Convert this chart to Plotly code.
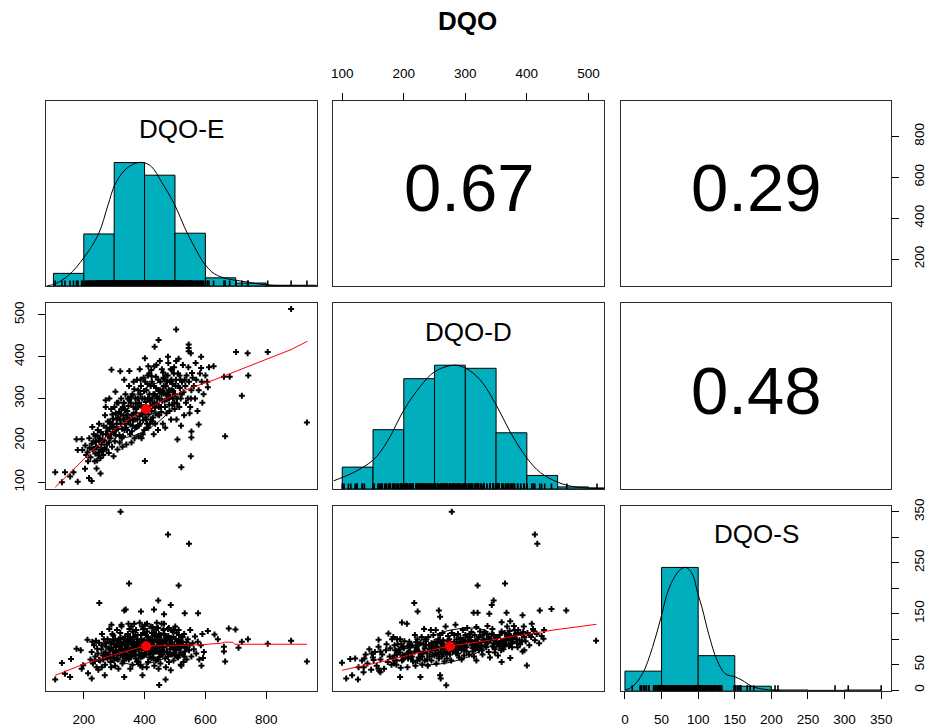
import math
import plotly.graph_objects as go

W, H = 927, 728

# ---------------- data ----------------
title_text = "DQO"
var_names = ["DQO-E", "DQO-D", "DQO-S"]
corr_values = [0.67, 0.29, 0.48]          # (E,D), (E,S), (D,S)

means = [405, 275, 86]                     # E, D, S
sds = [112, 68, 36]

E_bin_edges = [100, 200, 300, 400, 500, 600, 700, 800, 900, 1000]
E_counts = [17, 70, 166, 149, 71, 11, 4, 1, 1]
D_bin_edges = [100, 150, 200, 250, 300, 350, 400, 450, 500, 550]
D_counts = [21, 57, 106, 119, 116, 54, 13, 2, 1]
S_bin_edges = [0, 50, 100, 150, 200, 250, 300, 350]
S_counts = [52, 327, 93, 12, 2, 1, 2]

E_dens_x = [78, 106, 149, 201, 248, 280, 302, 335, 368, 395, 423, 455, 499, 532, 565, 597, 630, 673, 717, 772, 826, 935]
E_dens_y = [0.0, 0.018, 0.085, 0.232, 0.419, 0.659, 0.819, 0.939, 0.993, 1.0, 0.966, 0.846, 0.659, 0.472, 0.312, 0.179, 0.098, 0.058, 0.04, 0.018, 0.005, 0.0]
D_dens_x = [86, 99.5, 118, 151, 173, 201, 227, 250, 281, 301, 324, 351, 373, 400, 422, 451, 476, 498, 525]
D_dens_y = [0.066, 0.092, 0.132, 0.237, 0.382, 0.645, 0.829, 0.947, 1.0, 0.974, 0.882, 0.671, 0.46, 0.25, 0.132, 0.053, 0.018, 0.008, 0.003]
S_dens_x = [0, 10, 24, 37.5, 49, 60, 74, 83, 92, 99, 105.5, 114.5, 126, 137, 151, 160, 173, 182.5, 200.6, 213]
S_dens_y = [0.005, 0.032, 0.138, 0.35, 0.589, 0.828, 0.973, 1.0, 0.947, 0.80, 0.668, 0.456, 0.244, 0.138, 0.111, 0.085, 0.037, 0.019, 0.005, 0.0]

# scatter DQO-E (x) vs DQO-D (y)
ED_E = [882, 934, 504, 446, 433, 545, 545, 545, 701, 739, 805, 741, 720, 661, 680, 627, 665, 586, 586, 608,
        590, 578, 554, 554, 552, 521, 508, 401, 106, 128, 138, 155, 166, 180, 176, 193, 180, 195, 217, 226,
        204, 242, 255, 238, 249, 291, 320, 350, 272, 304, 401, 412, 432, 477, 504, 490, 423, 466, 552, 556,
        205, 212, 218, 222, 226, 230, 233, 236, 240, 243, 246, 249, 252, 255, 258, 214, 228, 250, 238, 256,
        208, 244, 260, 232, 219,
        262, 265, 268, 270, 273, 276, 279, 282, 285, 288, 290, 293, 296, 299, 302, 305, 308, 311, 314, 317,
        264, 272, 284, 298, 306, 312, 318, 280, 294, 275,
        322, 325, 328, 331, 334, 337, 340, 343, 346, 349, 352, 355, 358, 361, 364, 367, 370, 373, 376, 379,
        323, 327, 333, 339, 345, 351, 357, 363, 369, 375, 380, 330, 342, 360, 372,
        382, 385, 388, 391, 394, 397, 400, 403, 406, 409, 412, 415, 418, 421, 424, 427, 430, 433, 436, 439,
        384, 390, 396, 402, 408, 414, 420, 426, 432, 438, 386, 399, 411, 423, 435,
        442, 445, 448, 451, 454, 457, 460, 463, 466, 469, 472, 475, 478, 481, 484, 487, 490, 493, 496, 499,
        444, 450, 456, 462, 468, 474, 480, 486, 492, 498,
        502, 506, 510, 514, 518, 522, 526, 530, 534, 538, 542, 546, 550, 554, 558, 505, 512, 520, 528, 536,
        544, 552, 516, 532, 548,
        562, 566, 570, 574, 578, 582, 588, 594, 600, 606, 612, 568,
        310, 316, 322, 326, 332, 336, 341, 347, 353, 356, 362, 366, 371, 374, 378, 383, 387, 392, 395, 398,
        401, 404, 407, 410, 413, 416, 419, 422, 425, 428, 431, 434, 437, 440, 443, 446, 449, 452, 455, 458,
        461, 464, 467, 470, 473, 476, 479, 482, 485, 488, 491, 494, 497, 500, 503, 507, 511, 515, 519, 523,
        285, 289, 294, 297, 301, 305, 309, 313, 319, 324, 329, 335, 344, 350, 358, 364, 368, 377, 381, 389,
        393, 405, 411, 417, 429, 441, 447, 459, 471, 483,
        250, 256, 262, 268, 274, 278, 283, 287, 246, 240]
ED_D = [514, 243, 465, 440, 424, 429, 421, 413, 411, 408, 411, 355, 307, 352, 352, 377, 210, 400, 373, 327,
        290, 238, 221, 207, 162, 136, 202, 151, 124, 100, 124, 114, 124, 101, 203, 203, 177, 177, 110, 103,
        132, 133, 121, 169, 164, 369, 365, 366, 296, 316, 396, 377, 377, 400, 390, 369, 353, 346, 408, 361,
        188, 172, 205, 160, 192, 178, 215, 150, 196, 183, 225, 171, 205, 158, 190, 150, 232, 240, 210, 220,
        165, 152, 175, 198, 182,
        200, 235, 182, 260, 215, 190, 245, 170, 228, 205, 275, 185, 252, 220, 198, 265, 240, 178, 290, 213,
        165, 280, 300, 162, 226, 255, 195, 210, 238, 230,
        240, 205, 280, 260, 225, 310, 190, 270, 245, 330, 215, 290, 260, 235, 340, 205, 300, 275, 250, 320,
        300, 185, 345, 230, 300, 250, 195, 280, 230, 345, 210, 250, 225, 310, 265,
        290, 240, 330, 265, 215, 350, 300, 255, 320, 275, 230, 360, 295, 250, 340, 285, 215, 310, 265, 380,
        370, 205, 280, 340, 240, 300, 330, 245, 290, 325, 310, 225, 355, 270, 240,
        300, 345, 260, 320, 280, 370, 240, 330, 295, 355, 265, 310, 385, 285, 340, 250, 320, 300, 360, 275,
        225, 390, 310, 350, 230, 340, 300, 370, 335, 290,
        330, 300, 360, 280, 345, 310, 380, 260, 330, 355, 300, 340, 280, 320, 350, 250, 395, 235, 315, 290,
        375, 300, 325, 345, 265,
        330, 300, 345, 270, 320, 360, 340, 310, 355, 340, 375, 385,
        250, 268, 262, 228, 290, 272, 255, 282, 238, 305, 248, 322, 288, 232, 300, 258, 345, 300, 248, 318,
        270, 292, 230, 335, 262, 310, 282, 368, 300, 255, 330, 278, 352, 288, 262, 318, 300, 340, 268, 295,
        362, 312, 280, 330, 298, 355, 320, 270, 305, 345, 285, 318, 375, 310, 345, 288, 330, 355, 300, 340,
        245, 215, 262, 232, 280, 212, 290, 228, 250, 275, 210, 240, 262, 298, 222, 265, 250, 280, 235, 282,
        262, 250, 300, 240, 310, 305, 280, 320, 310, 320,
        200, 178, 215, 200, 178, 222, 195, 240, 210, 185]

# scatter DQO-E (x) vs DQO-S (y)
ES_E = [321, 477, 546, 349, 512, 251, 445, 486, 333, 338, 388, 431, 576, 532, 464, 291, 324, 677, 699, 740,
        720, 882, 805, 709, 661, 661, 665, 934, 608, 630, 641, 592, 587, 521, 486, 469, 448, 393, 333, 226,
        106, 128, 138, 155, 158, 176, 190, 212, 240, 244, 193, 198, 214, 259, 269, 297, 250,
        222, 226, 230, 234, 238, 242, 246, 250, 254, 258, 262, 266, 270, 274, 278, 228, 248, 260, 272, 236,
        282, 285, 288, 291, 294, 297, 300, 303, 306, 309, 312, 315, 318, 321, 324, 327, 330, 333, 336, 339,
        284, 290, 296, 302, 308, 314, 320, 326, 332, 338, 287, 299, 311, 323, 335,
        342, 345, 348, 351, 354, 357, 360, 363, 366, 369, 372, 375, 378, 381, 384, 387, 390, 393, 396, 399,
        341, 347, 353, 359, 365, 371, 377, 383, 389, 395, 344, 356, 368, 380, 392, 398, 350, 362, 374, 386,
        402, 405, 408, 411, 414, 417, 420, 423, 426, 429, 432, 435, 438, 441, 444, 447, 450, 453, 456, 459,
        401, 407, 413, 419, 425, 431, 437, 443, 449, 455, 404, 416, 428, 440, 452, 458, 410, 422, 434, 446,
        462, 465, 468, 471, 474, 477, 480, 483, 486, 489, 492, 495, 498, 501, 504, 507, 510, 513, 516, 519,
        464, 470, 476, 482, 488, 494, 500, 506, 512, 518,
        522, 526, 530, 534, 538, 542, 546, 550, 554, 558, 562, 566, 570, 575, 580, 585, 590, 595, 528, 548,
        305, 310, 316, 322, 328, 334, 340, 346, 352, 358, 364, 370, 376, 382, 388, 394, 400, 406, 412, 418,
        424, 430, 436, 442, 448, 454, 460, 466, 472, 478, 484, 490, 496, 502, 508, 514, 520, 526, 532, 538,
        303, 309, 315, 321, 327, 333, 339, 345, 351, 357, 363, 369, 375, 381, 387, 393, 399, 405, 411, 417,
        423, 429, 435, 441, 447, 453, 459, 465, 471, 477, 483, 489, 495, 501, 507, 513, 519, 525, 531, 537,
        260, 266, 272, 278, 284, 290, 296, 264, 276, 288,
        392, 408, 426, 444, 462, 480, 350, 366, 496, 512]
ES_S = [350, 305, 287, 209, 205, 171, 176, 167, 156, 158, 154, 158, 151, 151, 149, 128, 128, 121, 119, 100,
        95, 97, 91, 83, 85, 76, 56, 56, 116, 109, 100, 63, 48, 48, 39, 21, 10, 29, 26, 23,
        21, 53, 32, 26, 61, 81, 78, 99, 97, 81, 42, 49, 33, 45, 29, 107, 59,
        60, 75, 52, 88, 66, 45, 72, 93, 58, 80, 68, 100, 50, 85, 62, 95, 40, 110, 74, 57,
        70, 95, 55, 82, 110, 64, 90, 48, 76, 118, 60, 100, 85, 68, 125, 52, 92, 78, 105, 62,
        120, 45, 100, 72, 88, 42, 112, 80, 58, 95, 78, 58, 96, 90, 72,
        85, 110, 60, 95, 75, 125, 50, 88, 104, 70, 118, 56, 92, 80, 132, 64, 100, 45, 86, 112,
        65, 130, 42, 98, 80, 62, 108, 95, 73, 120, 92, 66, 90, 55, 82, 68, 78, 115, 84, 48,
        90, 70, 115, 55, 98, 82, 125, 62, 105, 88, 48, 76, 120, 95, 60, 110, 84, 70, 130, 92,
        128, 45, 76, 100, 80, 112, 58, 86, 65, 100, 108, 64, 72, 132, 52, 78, 86, 92, 98, 42,
        85, 110, 62, 95, 75, 120, 55, 90, 102, 70, 115, 58, 88, 125, 78, 96, 64, 108, 82, 50,
        130, 45, 100, 72, 118, 82, 68, 112, 90, 74,
        95, 70, 110, 85, 60, 100, 78, 118, 66, 92, 80, 105, 72, 95, 60, 88, 110, 75, 55, 88,
        85, 72, 95, 80, 66, 100, 88, 70, 104, 82, 95, 76, 90, 68, 108, 92, 78, 96, 88, 70,
        112, 95, 82, 104, 76, 90, 70, 98, 86, 106, 80, 94, 72, 100, 86, 68, 96, 88, 76, 94,
        100, 62, 78, 102, 90, 70, 80, 98, 64, 90, 72, 108, 100, 92, 84, 66, 98, 86, 104, 92,
        78, 64, 106, 76, 96, 108, 84, 76, 104, 66, 100, 88, 104, 80, 66, 98, 84, 104, 66, 82,
        88, 72, 92, 100, 82, 92, 78, 60, 66, 64,
        125, 130, 124, 122, 118, 122, 120, 130, 118, 118]

# scatter DQO-D (x) vs DQO-S (y)
DS_D = [278, 413, 417, 320, 364.5, 217, 222.5, 257, 259, 313.5, 320, 346, 343, 339, 367, 393, 421, 440, 464, 512.5,
        427, 400, 373, 359, 393, 411, 197, 205, 175, 159, 181, 189, 162, 99.5, 113, 121, 126.5, 106.5, 116, 125.5,
        134.6, 151, 159, 162, 194, 227, 259, 260, 269, 373, 379, 359,
        132, 135, 138, 141, 144, 147, 150, 153, 156, 159, 162, 165, 168, 171, 174, 177, 180, 136, 148, 160, 172, 178,
        182, 185, 188, 191, 194, 197, 200, 203, 206, 209, 212, 215, 218, 221, 224, 227, 230, 183, 189, 195,
        201, 207, 213, 219, 225, 229, 186, 198, 210, 222, 184, 196, 208, 220, 228,
        232, 235, 238, 241, 244, 247, 250, 253, 256, 259, 262, 265, 268, 271, 274, 277, 280, 233, 239, 245,
        251, 257, 263, 269, 275, 236, 242, 248, 254, 260, 266, 272, 278, 234, 246, 258, 270, 276, 252, 264,
        282, 285, 288, 291, 294, 297, 300, 303, 306, 309, 312, 315, 318, 321, 324, 327, 330, 284, 290, 296,
        302, 308, 314, 320, 326, 286, 292, 298, 304, 310, 316, 322, 328, 288, 300, 312, 318, 294,
        332, 335, 338, 341, 344, 347, 350, 353, 356, 359, 362, 365, 368, 371, 374, 377, 380, 334, 340, 346,
        352, 358, 364, 370, 376, 336, 348, 366,
        383, 386, 389, 392, 395, 398, 401, 404, 407, 410, 413, 416, 420, 424, 428, 385, 396, 408,
        185, 192, 199, 206, 213, 220, 226, 232, 238, 244, 250, 256, 262, 268, 274, 280, 286, 292, 298, 304,
        310, 316, 322, 328, 334, 340, 346, 352, 358, 364, 370, 376, 382, 388, 394,
        188, 194, 200, 206, 212, 218, 224, 230, 236, 242, 248, 254, 260, 266, 272, 278, 284, 290, 296, 302,
        308, 314, 320, 326, 332, 338, 344, 350, 356, 362, 368, 374, 380, 386, 392,
        240, 252, 264, 276, 288, 300, 312, 324, 336, 348, 360, 372, 384, 396, 405, 245, 257, 270, 282, 295,
        307, 319, 331, 343, 355, 210, 222, 234, 198, 190]
DS_S = [350, 305, 287, 205, 209, 171, 154, 156, 144, 152, 152, 176, 167, 150, 152, 147, 156, 159, 156, 97,
        101, 48.5, 63, 55, 76, 116, 132.5, 130, 111, 99, 100, 100, 75.6, 53.7, 61, 62, 45, 22.7, 29, 20.7,
        35, 59, 42, 35, 26, 26, 29, 22.7, 9.7, 135, 126, 133,
        58, 45, 70, 52, 80, 40, 64, 75, 48, 85, 60, 70, 42, 78, 55, 66, 50, 62, 72, 38, 90, 82,
        62, 88, 50, 75, 100, 58, 82, 68, 45, 95, 72, 56, 108, 80, 64, 92, 50, 104, 70, 44,
        96, 62, 88, 48, 76, 104, 78, 66, 84, 58, 52, 90, 76, 94, 70,
        75, 100, 60, 88, 118, 70, 95, 52, 82, 108, 66, 90, 125, 74, 100, 58, 86, 120, 48, 92,
        78, 62, 112, 84, 70, 88, 66, 108, 92, 76, 56, 96, 112, 58, 82, 96, 62, 80, 118, 72,
        95, 72, 110, 84, 60, 100, 88, 122, 70, 96, 82, 108, 58, 92, 115, 78, 100, 128, 64, 118,
        76, 104, 66, 86, 94, 90, 102, 68, 96, 114, 80, 104, 70, 82, 108, 94, 124, 78,
        88, 110, 75, 98, 120, 84, 102, 68, 92, 115, 80, 100, 125, 86, 106, 95, 118, 96, 64, 108,
        90, 78, 112, 98, 84, 126, 74, 90,
        100, 118, 90, 108, 125, 96, 112, 88, 104, 120, 98, 110, 92, 106, 118, 84, 78, 130,
        68, 80, 60, 72, 66, 84, 60, 90, 72, 78, 68, 100, 84, 72, 92, 76, 100, 86, 80, 104,
        88, 96, 78, 108, 84, 100, 92, 104, 96, 88, 108, 100, 110, 98, 114,
        58, 74, 68, 86, 62, 76, 88, 66, 96, 80, 86, 70, 92, 80, 106, 90, 80, 94, 90, 84,
        98, 90, 100, 86, 96, 104, 86, 96, 108, 96, 104, 92, 104, 112, 96,
        104, 84, 98, 84, 72, 96, 76, 84, 92, 80, 86, 116, 92, 104, 108, 58, 70, 88, 108, 94,
        110, 88, 114, 110, 86, 90, 100, 82, 84, 90]

# smoothed (lowess) curves
ED_smooth_E = [106, 204, 291, 368, 403, 477, 543, 630, 718, 805, 882, 936]
ED_smooth_D = [88, 157, 220, 260, 274, 301, 323, 345, 370, 394, 417, 437]
ES_smooth_E = [106, 204, 302, 379, 412, 499, 586, 652, 663, 690, 696, 805, 934]
ES_smooth_S = [29, 52, 70, 83, 87, 87, 89, 92, 94, 94, 90, 90, 90]
DS_smooth_D = [99.5, 173, 227, 273, 335, 389, 444, 513]
DS_smooth_S = [39, 58, 74, 86, 97, 107, 118, 129]

# axis tick labels
E_ticks = [200, 400, 600, 800]
D_ticks = [100, 200, 300, 400, 500]
S_ticks = [0, 50, 100, 150, 200, 250, 300, 350]
S_right_labels = ["0", "50", "", "150", "", "250", "", "350"]

# ---------------- layout geometry / styles ----------------
col_px = [(44.3, 316.0), (332.7, 605.0), (621.7, 893.0)]
row_px = [(95.0, 282.5), (300.0, 488.0), (505.0, 692.3)]
x_ranges = [[76, 966], [85.4, 526], [-5.4, 363.6]]
y_ranges = [[68, 974], [84, 527.6], [-1.2, 361.6]]
HIST_TOP = 1.5
RUG_LEN = 0.045
HIST_COLOR = "#00AEBD"
BORDER = "#2b2b2b"
FONT = "Liberation Sans, Arial, sans-serif"

fig = go.Figure()


def ax_id(r, c):
    p = r * 3 + c + 1
    return ("x" if p == 1 else f"x{p}"), ("y" if p == 1 else f"y{p}")


hist_data = [(E_bin_edges, E_counts, E_dens_x, E_dens_y, ED_E),
             (D_bin_edges, D_counts, D_dens_x, D_dens_y, ED_D),
             (S_bin_edges, S_counts, S_dens_x, S_dens_y, ES_S)]

# diagonal: histograms, density, rug
for i, (edges, counts, dx, dy, rugvals) in enumerate(hist_data):
    xa, ya = ax_id(i, i)
    mx = max(counts)
    centers = [(edges[k] + edges[k + 1]) / 2 for k in range(len(counts))]
    widths = [edges[k + 1] - edges[k] for k in range(len(counts))]
    fig.add_trace(go.Bar(x=centers, y=[c / mx for c in counts], width=widths,
                         marker=dict(color=HIST_COLOR, line=dict(color="black", width=1)),
                         xaxis=xa, yaxis=ya, showlegend=False, hoverinfo="skip"))
    fig.add_trace(go.Scatter(x=dx, y=dy, mode="lines", line=dict(color="black", width=1),
                             line_shape="spline", xaxis=xa, yaxis=ya, showlegend=False, hoverinfo="skip"))
    rx, ry = [], []
    for v in rugvals:
        rx += [v, v, None]
        ry += [0, RUG_LEN, None]
    fig.add_trace(go.Scatter(x=rx, y=ry, mode="lines", line=dict(color="black", width=1.6),
                             xaxis=xa, yaxis=ya, showlegend=False, hoverinfo="skip"))

# lower panels: scatter, smooth, ellipse, mean
lower = [((1, 0), ED_E, ED_D, ED_smooth_E, ED_smooth_D, 0, 1, corr_values[0]),
         ((2, 0), ES_E, ES_S, ES_smooth_E, ES_smooth_S, 0, 2, corr_values[1]),
         ((2, 1), DS_D, DS_S, DS_smooth_D, DS_smooth_S, 1, 2, corr_values[2])]
for (r, c), px, py, sx, sy, vi, vj, rr in lower:
    xa, ya = ax_id(r, c)
    fig.add_trace(go.Scatter(x=px, y=py, mode="markers",
                             marker=dict(symbol="cross", size=5, color="black", line=dict(width=0)),
                             xaxis=xa, yaxis=ya, showlegend=False, hoverinfo="skip"))
    fig.add_trace(go.Scatter(x=sx, y=sy, mode="lines", line=dict(color="red", width=1),
                             xaxis=xa, yaxis=ya, showlegend=False, hoverinfo="skip"))
    # correlation ellipse (psych::draw.ellipse, 1 sd)
    th = 1 / math.sqrt(2)
    a, b = math.sqrt(1 + rr), math.sqrt(1 - rr)
    ex, ey = [], []
    for k in range(52):
        ang = k * 2 * math.pi / 51
        cc, ss = math.cos(ang), math.sin(ang)
        ex.append((cc * a * th - ss * b * th) * sds[vi] + means[vi])
        ey.append((cc * a * th + ss * b * th) * sds[vj] + means[vj])
    fig.add_trace(go.Scatter(x=ex, y=ey, mode="lines", line=dict(color="black", width=1),
                             xaxis=xa, yaxis=ya, showlegend=False, hoverinfo="skip"))
    fig.add_trace(go.Scatter(x=[means[vi]], y=[means[vj]], mode="markers",
                             marker=dict(size=10, color="red"),
                             xaxis=xa, yaxis=ya, showlegend=False, hoverinfo="skip"))

# upper panels need a trace so that axes are drawn
for (r, c) in [(0, 1), (0, 2), (1, 2)]:
    xa, ya = ax_id(r, c)
    fig.add_trace(go.Scatter(x=[None], y=[None], xaxis=xa, yaxis=ya, showlegend=False, hoverinfo="skip"))

tickfont = dict(family=FONT, size=13.5, color="black")
labeled = dict(ticks="outside", ticklen=7, tickwidth=1, tickcolor="black",
               showticklabels=True, tickfont=tickfont, ticklabelstandoff=9)

layout = {}
for r in range(3):
    for c in range(3):
        p = r * 3 + c + 1
        xa, ya = ax_id(r, c)
        xr = x_ranges[c]
        yr = [0, HIST_TOP] if r == c else y_ranges[r]
        base = dict(showgrid=False, zeroline=False, showline=True, mirror=True,
                    linecolor=BORDER, linewidth=1, ticks="", showticklabels=False, fixedrange=True)
        xd = dict(base, domain=[col_px[c][0] / W, col_px[c][1] / W], anchor=ya, range=xr)
        yd = dict(base, domain=[1 - row_px[r][1] / H, 1 - row_px[r][0] / H], anchor=xa, range=yr)
        layout["xaxis" if p == 1 else f"xaxis{p}"] = xd
        layout["yaxis" if p == 1 else f"yaxis{p}"] = yd

layout["xaxis7"].update(labeled, tickvals=E_ticks)
layout["xaxis2"].update(labeled, tickvals=D_ticks, side="top")
layout["xaxis9"].update(labeled, tickvals=S_ticks)
layout["yaxis4"].update(labeled, tickvals=D_ticks, tickangle=-90)
layout["yaxis3"].update(labeled, tickvals=E_ticks, side="right", tickangle=-90)
s0, s1 = y_ranges[2]
layout["yaxis9"].update(labeled, side="right", tickangle=-90,
                        tickvals=[(s - s0) / (s1 - s0) * HIST_TOP for s in S_ticks],
                        ticktext=S_right_labels)

annotations = [dict(text=f"<b>{title_text}</b>", xref="paper", yref="paper",
                    x=468 / W, y=1 - 14 / H, xanchor="center", yanchor="middle", showarrow=False,
                    font=dict(family=FONT, size=26, color="black"))]
for i, name in enumerate(var_names):
    xa, ya = ax_id(i, i)
    annotations.append(dict(text=name, xref=xa, yref=ya, x=sum(x_ranges[i]) / 2, y=1.27,
                            xanchor="center", yanchor="middle",
                            showarrow=False, font=dict(family=FONT, size=26, color="black")))
for (r, c), val in zip([(0, 1), (0, 2), (1, 2)], corr_values):
    cx = (col_px[c][0] + col_px[c][1]) / 2 / W
    cy = 1 - ((row_px[r][0] + row_px[r][1]) / 2 - 5.5) / H
    annotations.append(dict(text=f"{val:.2f}", xref="paper", yref="paper", x=cx, y=cy,
                            xanchor="center", yanchor="middle",
                            showarrow=False, font=dict(family=FONT, size=67, color="black")))

fig.update_layout(width=W, height=H, margin=dict(l=0, r=0, t=0, b=0),
                  paper_bgcolor="white", plot_bgcolor="white", barmode="overlay",
                  annotations=annotations, **layout)

fig.write_html("out.html")
